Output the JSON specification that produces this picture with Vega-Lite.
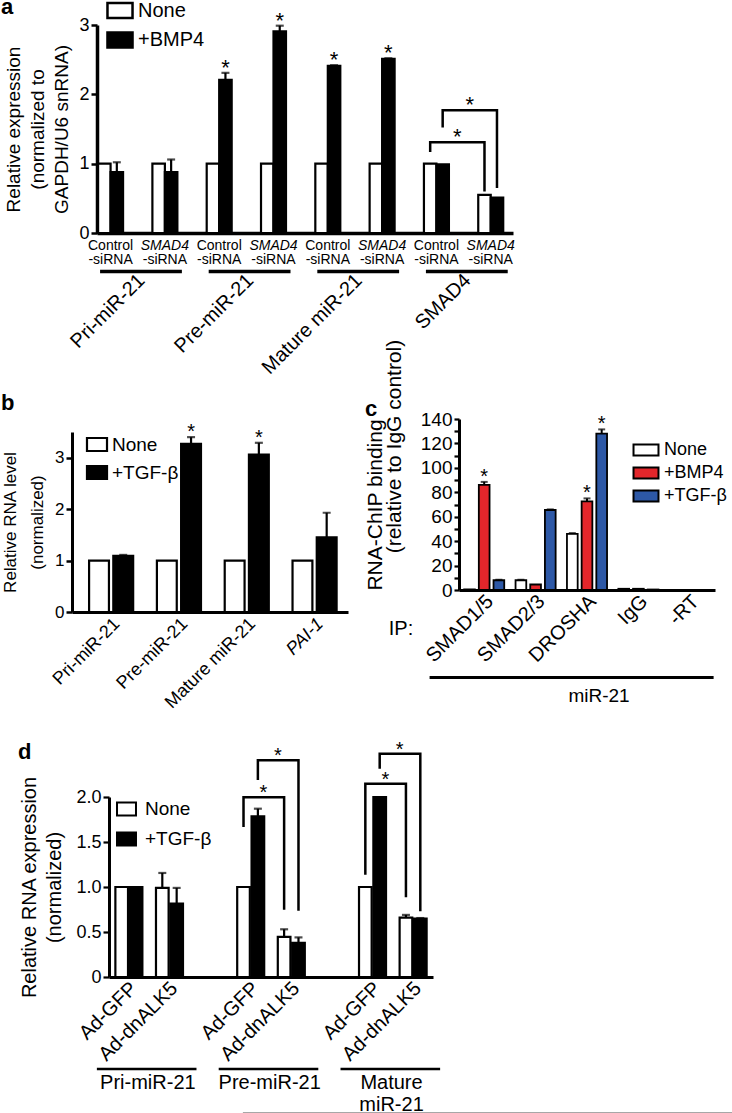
{
  "$schema": "https://vega.github.io/schema/vega-lite/v6.json",
  "padding": {"left": 0, "top": -4, "right": 0, "bottom": 0},
  "config": {
    "font": "Liberation Sans",
    "view": {"stroke": null},
    "axis": {"domainColor": "black", "tickColor": "black", "labelColor": "black", "titleColor": "black", "grid": false, "titleFontWeight": "normal", "labelFont": "Liberation Sans", "titleFont": "Liberation Sans", "labelOverlap": false, "labelBound": false, "labelLimit": 400},
    "legend": {"labelColor": "black", "labelFont": "Liberation Sans"},
    "title": {"color": "black", "font": "Liberation Sans", "fontWeight": "bold"},
    "text": {"color": "black"}
  },
  "datasets": {
    "a": [
      {"key": "Pri|Control", "treatment": "None", "value": 1.0},
      {"key": "Pri|Control", "treatment": "+BMP4", "value": 0.88, "hi": 1.02},
      {"key": "Pri|SMAD4", "treatment": "None", "value": 1.0},
      {"key": "Pri|SMAD4", "treatment": "+BMP4", "value": 0.88, "hi": 1.06},
      {"key": "Pre|Control", "treatment": "None", "value": 1.0},
      {"key": "Pre|Control", "treatment": "+BMP4", "value": 2.21, "hi": 2.31, "star": true},
      {"key": "Pre|SMAD4", "treatment": "None", "value": 1.0},
      {"key": "Pre|SMAD4", "treatment": "+BMP4", "value": 2.91, "hi": 2.99, "star": true},
      {"key": "Mat|Control", "treatment": "None", "value": 1.0},
      {"key": "Mat|Control", "treatment": "+BMP4", "value": 2.41, "hi": 2.42, "star": true},
      {"key": "Mat|SMAD4", "treatment": "None", "value": 1.0},
      {"key": "Mat|SMAD4", "treatment": "+BMP4", "value": 2.51, "hi": 2.52, "star": true},
      {"key": "SMAD4|Control", "treatment": "None", "value": 1.0},
      {"key": "SMAD4|Control", "treatment": "+BMP4", "value": 0.99},
      {"key": "SMAD4|SMAD4", "treatment": "None", "value": 0.55},
      {"key": "SMAD4|SMAD4", "treatment": "+BMP4", "value": 0.51}
    ],
    "aGroups": [
      {"key": "Pri|Control", "key2": "Pri|SMAD4", "label": "Pri-miR-21"},
      {"key": "Pre|Control", "key2": "Pre|SMAD4", "label": "Pre-miR-21"},
      {"key": "Mat|Control", "key2": "Mat|SMAD4", "label": "Mature miR-21"},
      {"key": "SMAD4|Control", "key2": "SMAD4|SMAD4", "label": "SMAD4"}
    ],
    "aBr": [
      {"id": 1, "o": 1, "key": "SMAD4|Control", "treatment": "None", "y": 1.17},
      {"id": 1, "o": 2, "key": "SMAD4|Control", "treatment": "None", "y": 1.31},
      {"id": 1, "o": 3, "key": "SMAD4|SMAD4", "treatment": "None", "y": 1.31},
      {"id": 1, "o": 4, "key": "SMAD4|SMAD4", "treatment": "None", "y": 0.6},
      {"id": 2, "o": 1, "key": "SMAD4|Control", "treatment": "+BMP4", "y": 1.52},
      {"id": 2, "o": 2, "key": "SMAD4|Control", "treatment": "+BMP4", "y": 1.77},
      {"id": 2, "o": 3, "key": "SMAD4|SMAD4", "treatment": "+BMP4", "y": 1.77},
      {"id": 2, "o": 4, "key": "SMAD4|SMAD4", "treatment": "+BMP4", "y": 0.65}
    ],
    "b": [
      {"target": "Pri-miR-21", "treatment": "None", "value": 1.0},
      {"target": "Pri-miR-21", "treatment": "+TGF-β", "value": 1.09, "hi": 1.11},
      {"target": "Pre-miR-21", "treatment": "None", "value": 1.0},
      {"target": "Pre-miR-21", "treatment": "+TGF-β", "value": 3.27, "hi": 3.4, "star": true},
      {"target": "Mature miR-21", "treatment": "None", "value": 1.0},
      {"target": "Mature miR-21", "treatment": "+TGF-β", "value": 3.06, "hi": 3.29, "star": true},
      {"target": "PAI-1", "treatment": "None", "value": 1.0},
      {"target": "PAI-1", "treatment": "+TGF-β", "value": 1.45, "hi": 1.93}
    ],
    "c": [
      {"ip": "SMAD1/5", "treatment": "None", "value": 0.5},
      {"ip": "SMAD1/5", "treatment": "+BMP4", "value": 86, "hi": 88.5, "star": true},
      {"ip": "SMAD1/5", "treatment": "+TGF-β", "value": 8, "hi": 8.4},
      {"ip": "SMAD2/3", "treatment": "None", "value": 8, "hi": 8.3},
      {"ip": "SMAD2/3", "treatment": "+BMP4", "value": 4.5},
      {"ip": "SMAD2/3", "treatment": "+TGF-β", "value": 65.5, "hi": 66},
      {"ip": "DROSHA", "treatment": "None", "value": 46, "hi": 46.6},
      {"ip": "DROSHA", "treatment": "+BMP4", "value": 72.5, "hi": 75, "star": true},
      {"ip": "DROSHA", "treatment": "+TGF-β", "value": 128, "hi": 131.5, "star": true},
      {"ip": "IgG", "treatment": "None", "value": 1},
      {"ip": "IgG", "treatment": "+BMP4", "value": 1},
      {"ip": "IgG", "treatment": "+TGF-β", "value": 0.4}
    ],
    "cNotes": [
      {"ip": "SMAD1/5", "ip2": "-RT", "mid": "DROSHA", "prefix": "IP:", "rna": "miR-21"}
    ],
    "d": [
      {"key": "Pri|Ad-GFP", "treatment": "None", "value": 1.0},
      {"key": "Pri|Ad-GFP", "treatment": "+TGF-β", "value": 1.0},
      {"key": "Pri|Ad-dnALK5", "treatment": "None", "value": 0.99, "hi": 1.156},
      {"key": "Pri|Ad-dnALK5", "treatment": "+TGF-β", "value": 0.815, "hi": 0.99},
      {"key": "Pre|Ad-GFP", "treatment": "None", "value": 1.0},
      {"key": "Pre|Ad-GFP", "treatment": "+TGF-β", "value": 1.785, "hi": 1.87},
      {"key": "Pre|Ad-dnALK5", "treatment": "None", "value": 0.445, "hi": 0.53},
      {"key": "Pre|Ad-dnALK5", "treatment": "+TGF-β", "value": 0.38, "hi": 0.44},
      {"key": "Mat|Ad-GFP", "treatment": "None", "value": 1.0},
      {"key": "Mat|Ad-GFP", "treatment": "+TGF-β", "value": 2.0},
      {"key": "Mat|Ad-dnALK5", "treatment": "None", "value": 0.66, "hi": 0.69},
      {"key": "Mat|Ad-dnALK5", "treatment": "+TGF-β", "value": 0.648, "hi": 0.655}
    ],
    "dGroups": [
      {"key": "Pri|Ad-GFP", "key2": "Pri|Ad-dnALK5", "label": "Pri-miR-21"},
      {"key": "Pre|Ad-GFP", "key2": "Pre|Ad-dnALK5", "label": "Pre-miR-21"},
      {"key": "Mat|Ad-GFP", "key2": "Mat|Ad-dnALK5", "label": "Mature\nmiR-21"}
    ],
    "dBr": [
      {"id": 1, "o": 1, "key": "Pre|Ad-GFP", "treatment": "None", "y": 1.667},
      {"id": 1, "o": 2, "key": "Pre|Ad-GFP", "treatment": "None", "y": 1.996},
      {"id": 1, "o": 3, "key": "Pre|Ad-dnALK5", "treatment": "None", "y": 1.996},
      {"id": 1, "o": 4, "key": "Pre|Ad-dnALK5", "treatment": "None", "y": 0.748},
      {"id": 2, "o": 1, "key": "Pre|Ad-GFP", "treatment": "+TGF-β", "y": 2.19},
      {"id": 2, "o": 2, "key": "Pre|Ad-GFP", "treatment": "+TGF-β", "y": 2.407},
      {"id": 2, "o": 3, "key": "Pre|Ad-dnALK5", "treatment": "+TGF-β", "y": 2.407},
      {"id": 2, "o": 4, "key": "Pre|Ad-dnALK5", "treatment": "+TGF-β", "y": 0.737},
      {"id": 3, "o": 1, "key": "Mat|Ad-GFP", "treatment": "None", "y": 1.137},
      {"id": 3, "o": 2, "key": "Mat|Ad-GFP", "treatment": "None", "y": 2.148},
      {"id": 3, "o": 3, "key": "Mat|Ad-dnALK5", "treatment": "None", "y": 2.148},
      {"id": 3, "o": 4, "key": "Mat|Ad-dnALK5", "treatment": "None", "y": 0.885},
      {"id": 4, "o": 1, "key": "Mat|Ad-GFP", "treatment": "+TGF-β", "y": 2.315},
      {"id": 4, "o": 2, "key": "Mat|Ad-GFP", "treatment": "+TGF-β", "y": 2.48},
      {"id": 4, "o": 3, "key": "Mat|Ad-dnALK5", "treatment": "+TGF-β", "y": 2.48},
      {"id": 4, "o": 4, "key": "Mat|Ad-dnALK5", "treatment": "+TGF-β", "y": 0.73}
    ],
    "dPage": [
      {"key": "Pri|Ad-GFP", "key2": "Mat|Ad-dnALK5"}
    ]
  },
  "resolve": {"scale": {"fill": "independent", "xOffset": "independent"}},
  "spacing": -39,
  "vconcat": [
    {
      "resolve": {"scale": {"fill": "independent", "xOffset": "independent"}},
      "spacing": 0,
      "hconcat": [
        {"width": 1, "height": 1, "data": {"values": [{}]}, "mark": {"type": "point", "opacity": 0, "size": 0}, "encoding": {}},
        {
          "width": 416,
          "height": 208,
          "title": {"text": "a", "anchor": "start", "frame": "group", "baseline": "alphabetic", "dx": -96, "offset": -35.5, "fontSize": 22},
          "resolve": {"axis": {"x": "independent"}},
          "layer": [
            {
              "data": {"name": "a"},
              "mark": {"type": "bar", "stroke": "black", "strokeWidth": 2.2},
              "encoding": {
                "x": {"field": "key", "type": "nominal", "scale": {"domain": ["Pri|Control", "Pri|SMAD4", "Pre|Control", "Pre|SMAD4", "Mat|Control", "Mat|SMAD4", "SMAD4|Control", "SMAD4|SMAD4"], "paddingInner": 0.54, "paddingOuter": 0.1, "align": 0.1},
                  "axis": {"orient": "bottom", "title": null, "ticks": false, "domainWidth": 3.5, "labelAngle": 0, "labelFontSize": 14, "labelPadding": 5, "labelExpr": "split(datum.value, '|')[1]", "labelFontStyle": {"condition": {"test": "split(datum.value, '|')[1] == 'SMAD4'", "value": "italic"}, "value": "normal"}}},
                "xOffset": {"field": "treatment", "type": "nominal", "scale": {"domain": ["None", "+BMP4"], "paddingInner": 0, "paddingOuter": 0}},
                "y": {"field": "value", "type": "quantitative", "scale": {"domain": [0, 3], "nice": false},
                  "axis": {"orient": "left", "values": [0, 0.5, 1, 1.5, 2, 2.5, 3], "format": "d", "labelOverlap": false, "labelExpr": "datum.value % 1 == 0 ? datum.label : ''", "tickSize": 6, "tickWidth": 2.5, "domainWidth": 3.5, "labelFontSize": 18, "labelPadding": 2, "title": ["Relative expression", "(normalized to", "GAPDH/U6 snRNA)"], "titleFontSize": 19, "titleLineHeight": 24, "titlePadding": 7}},
                "fill": {"field": "treatment", "type": "nominal", "scale": {"domain": ["None", "+BMP4"], "range": ["white", "black"]},
                  "legend": {"orient": "none", "legendX": 13, "legendY": -24.5, "title": null, "symbolType": "M-1.67,-1H1.67V1H-1.67Z", "symbolSize": 225, "symbolStrokeColor": "black", "symbolStrokeWidth": 2.5, "labelFontSize": 20, "labelOffset": 8, "rowPadding": 3.5, "padding": 0}}
              }
            },
            {
              "data": {"name": "a"},
              "transform": [{"filter": "isValid(datum.hi)"}],
              "mark": {"type": "rule", "strokeWidth": 2.2, "color": "black"},
              "encoding": {
                "x": {"field": "key", "type": "nominal", "scale": {"domain": ["Pri|Control", "Pri|SMAD4", "Pre|Control", "Pre|SMAD4", "Mat|Control", "Mat|SMAD4", "SMAD4|Control", "SMAD4|SMAD4"], "paddingInner": 0.54, "paddingOuter": 0.1, "align": 0.1},
                  "axis": {"orient": "bottom", "title": null, "ticks": false, "domain": false, "labelAngle": 0, "labelFontSize": 14, "labelPadding": 5, "offset": 14, "labelExpr": "'-siRNA'"}},
                "xOffset": {"field": "treatment", "type": "nominal", "scale": {"domain": ["None", "+BMP4"], "paddingInner": 0, "paddingOuter": 0}},
                "y": {"field": "value", "type": "quantitative", "scale": {"domain": [0, 3], "nice": false}},
                "y2": {"field": "hi"}
              }
            },
            {
              "data": {"name": "a"},
              "transform": [{"filter": "isValid(datum.hi)"}],
              "mark": {"type": "tick", "thickness": 2.2, "size": 8, "color": "black"},
              "encoding": {
                "x": {"field": "key", "type": "nominal", "scale": {"domain": ["Pri|Control", "Pri|SMAD4", "Pre|Control", "Pre|SMAD4", "Mat|Control", "Mat|SMAD4", "SMAD4|Control", "SMAD4|SMAD4"], "paddingInner": 0.54, "paddingOuter": 0.1, "align": 0.1}, "axis": null},
                "xOffset": {"field": "treatment", "type": "nominal", "scale": {"domain": ["None", "+BMP4"], "paddingInner": 0, "paddingOuter": 0}},
                "y": {"field": "hi", "type": "quantitative", "scale": {"domain": [0, 3], "nice": false}}
              }
            },
            {
              "data": {"name": "a"},
              "transform": [{"filter": "datum.star === true"}],
              "mark": {"type": "text", "text": "*", "fontSize": 22, "baseline": "alphabetic", "align": "center", "dy": 2},
              "encoding": {
                "x": {"field": "key", "type": "nominal", "scale": {"domain": ["Pri|Control", "Pri|SMAD4", "Pre|Control", "Pre|SMAD4", "Mat|Control", "Mat|SMAD4", "SMAD4|Control", "SMAD4|SMAD4"], "paddingInner": 0.54, "paddingOuter": 0.1, "align": 0.1}, "axis": null},
                "xOffset": {"field": "treatment", "type": "nominal", "scale": {"domain": ["None", "+BMP4"], "paddingInner": 0, "paddingOuter": 0}},
                "y": {"field": "hi", "type": "quantitative", "scale": {"domain": [0, 3], "nice": false}}
              }
            },
            {
              "data": {"name": "aGroups"},
              "mark": {"type": "rule", "strokeWidth": 3.5, "color": "black", "xOffset": -10.5, "x2Offset": 17},
              "encoding": {
                "x": {"field": "key", "type": "nominal", "scale": {"domain": ["Pri|Control", "Pri|SMAD4", "Pre|Control", "Pre|SMAD4", "Mat|Control", "Mat|SMAD4", "SMAD4|Control", "SMAD4|SMAD4"], "paddingInner": 0.54, "paddingOuter": 0.1, "align": 0.1}, "axis": null},
                "x2": {"field": "key2"},
                "y": {"datum": -0.555, "type": "quantitative", "scale": {"domain": [0, 3], "nice": false}}
              }
            },
            {
              "data": {"name": "aGroups"},
              "mark": {"type": "text", "angle": 315, "align": "right", "baseline": "middle", "fontSize": 20, "dx": 22, "dy": 22},
              "encoding": {
                "x": {"field": "key", "type": "nominal", "scale": {"domain": ["Pri|Control", "Pri|SMAD4", "Pre|Control", "Pre|SMAD4", "Mat|Control", "Mat|SMAD4", "SMAD4|Control", "SMAD4|SMAD4"], "paddingInner": 0.54, "paddingOuter": 0.1, "align": 0.1}, "axis": null},
                "y": {"datum": -0.64, "type": "quantitative", "scale": {"domain": [0, 3], "nice": false}},
                "text": {"field": "label"}
              }
            },
            {
              "data": {"name": "aBr"},
              "mark": {"type": "line", "color": "black", "strokeWidth": 2.5},
              "encoding": {
                "x": {"field": "key", "type": "nominal", "scale": {"domain": ["Pri|Control", "Pri|SMAD4", "Pre|Control", "Pre|SMAD4", "Mat|Control", "Mat|SMAD4", "SMAD4|Control", "SMAD4|SMAD4"], "paddingInner": 0.54, "paddingOuter": 0.1, "align": 0.1}, "axis": null},
                "xOffset": {"field": "treatment", "type": "nominal", "scale": {"domain": ["None", "+BMP4"], "paddingInner": 0, "paddingOuter": 0}},
                "y": {"field": "y", "type": "quantitative", "scale": {"domain": [0, 3], "nice": false}},
                "detail": {"field": "id", "type": "nominal"},
                "order": {"field": "o", "type": "quantitative"}
              }
            },
            {
              "data": {"name": "aBr"},
              "transform": [{"filter": "datum.o == 2"}],
              "mark": {"type": "text", "text": "*", "fontSize": 22, "baseline": "alphabetic", "align": "center", "dx": 27, "dy": 2},
              "encoding": {
                "x": {"field": "key", "type": "nominal", "scale": {"domain": ["Pri|Control", "Pri|SMAD4", "Pre|Control", "Pre|SMAD4", "Mat|Control", "Mat|SMAD4", "SMAD4|Control", "SMAD4|SMAD4"], "paddingInner": 0.54, "paddingOuter": 0.1, "align": 0.1}, "axis": null},
                "xOffset": {"field": "treatment", "type": "nominal", "scale": {"domain": ["None", "+BMP4"], "paddingInner": 0, "paddingOuter": 0}},
                "y": {"field": "y", "type": "quantitative", "scale": {"domain": [0, 3], "nice": false}}
              }
            }
          ]
        }
      ]
    },
    {
      "resolve": {"scale": {"fill": "independent", "xOffset": "independent"}},
      "spacing": 27,
      "vconcat": [
        {
          "resolve": {"scale": {"fill": "independent", "xOffset": "independent"}},
          "spacing": 0,
          "hconcat": [
            {"width": 1, "height": 1, "data": {"values": [{}]}, "mark": {"type": "point", "opacity": 0, "size": 0}, "encoding": {}},
            {
              "resolve": {"scale": {"fill": "independent", "xOffset": "independent"}},
              "spacing": 16,
              "hconcat": [
                {
                  "resolve": {"scale": {"fill": "independent", "xOffset": "independent"}},
                  "spacing": -28,
                  "vconcat": [
                    {"width": 1, "height": 1, "data": {"values": [{}]}, "mark": {"type": "point", "opacity": 0, "size": 0}, "encoding": {}},
                    {
                      "width": 276,
                      "height": 180,
                      "title": {"text": "b", "anchor": "start", "frame": "group", "baseline": "alphabetic", "dx": -71, "offset": -10, "fontSize": 22},
                      "layer": [
                        {
                          "data": {"name": "b"},
                          "mark": {"type": "bar", "stroke": "black", "strokeWidth": 2.2},
                          "encoding": {
                            "x": {"field": "target", "type": "nominal", "scale": {"domain": ["Pri-miR-21", "Pre-miR-21", "Mature miR-21", "PAI-1"], "paddingInner": 0.35, "paddingOuter": 0.21, "align": 0.6},
                              "axis": {"orient": "bottom", "title": null, "ticks": false, "domainWidth": 3, "labelAngle": -45, "labelAlign": "right", "labelBaseline": "middle", "labelFontSize": 18, "labelPadding": 9, "labelOffset": 6, "labelFontStyle": {"condition": {"test": "datum.value == 'PAI-1'", "value": "italic"}, "value": "normal"}}},
                            "xOffset": {"field": "treatment", "type": "nominal", "scale": {"domain": ["None", "+TGF-β"], "paddingInner": 0.18, "paddingOuter": 0}},
                            "y": {"field": "value", "type": "quantitative", "scale": {"domain": [0, 3.5], "nice": false},
                              "axis": {"orient": "left", "values": [0, 0.5, 1, 1.5, 2, 2.5, 3, 3.5], "format": "d", "labelOverlap": false, "labelExpr": "datum.value % 1 == 0 ? datum.label : ''", "tickSize": 6, "tickWidth": 2.5, "domainWidth": 3, "labelFontSize": 17, "labelPadding": 2, "title": ["Relative RNA level", "(normalized)"], "titleFontSize": 17, "titleLineHeight": 27, "titlePadding": 8}},
                            "fill": {"field": "treatment", "type": "nominal", "scale": {"domain": ["None", "+TGF-β"], "range": ["white", "black"]},
                              "legend": {"orient": "none", "legendX": 15.5, "legendY": 3, "title": null, "symbolType": "M-1.54,-1H1.54V1H-1.54Z", "symbolSize": 169, "symbolStrokeColor": "black", "symbolStrokeWidth": 2.2, "labelFontSize": 19, "labelOffset": 5.5, "rowPadding": 5, "padding": 0}}
                          }
                        },
                        {
                          "data": {"name": "b"},
                          "transform": [{"filter": "isValid(datum.hi)"}],
                          "mark": {"type": "rule", "strokeWidth": 2.2, "color": "black"},
                          "encoding": {
                            "x": {"field": "target", "type": "nominal", "scale": {"domain": ["Pri-miR-21", "Pre-miR-21", "Mature miR-21", "PAI-1"], "paddingInner": 0.35, "paddingOuter": 0.21, "align": 0.6}},
                            "xOffset": {"field": "treatment", "type": "nominal", "scale": {"domain": ["None", "+TGF-β"], "paddingInner": 0.18, "paddingOuter": 0}},
                            "y": {"field": "value", "type": "quantitative", "scale": {"domain": [0, 3.5], "nice": false}},
                            "y2": {"field": "hi"}
                          }
                        },
                        {
                          "data": {"name": "b"},
                          "transform": [{"filter": "isValid(datum.hi)"}],
                          "mark": {"type": "tick", "thickness": 2.2, "size": 8, "color": "black"},
                          "encoding": {
                            "x": {"field": "target", "type": "nominal", "scale": {"domain": ["Pri-miR-21", "Pre-miR-21", "Mature miR-21", "PAI-1"], "paddingInner": 0.35, "paddingOuter": 0.21, "align": 0.6}},
                            "xOffset": {"field": "treatment", "type": "nominal", "scale": {"domain": ["None", "+TGF-β"], "paddingInner": 0.18, "paddingOuter": 0}},
                            "y": {"field": "hi", "type": "quantitative", "scale": {"domain": [0, 3.5], "nice": false}}
                          }
                        },
                        {
                          "data": {"name": "b"},
                          "transform": [{"filter": "datum.star === true"}],
                          "mark": {"type": "text", "text": "*", "fontSize": 20, "baseline": "alphabetic", "align": "center", "dy": 1},
                          "encoding": {
                            "x": {"field": "target", "type": "nominal", "scale": {"domain": ["Pri-miR-21", "Pre-miR-21", "Mature miR-21", "PAI-1"], "paddingInner": 0.35, "paddingOuter": 0.21, "align": 0.6}},
                            "xOffset": {"field": "treatment", "type": "nominal", "scale": {"domain": ["None", "+TGF-β"], "paddingInner": 0.18, "paddingOuter": 0}},
                            "y": {"field": "hi", "type": "quantitative", "scale": {"domain": [0, 3.5], "nice": false}}
                          }
                        }
                      ]
                    }
                  ]
                },
                {
                  "width": 256,
                  "height": 171,
                  "title": {"text": "c", "anchor": "start", "frame": "group", "baseline": "alphabetic", "dx": -94, "offset": -99, "fontSize": 22},
                  "resolve": {"axis": {"y": "independent"}},
                  "layer": [
                    {
                      "data": {"name": "c"},
                      "mark": {"type": "bar", "stroke": "black", "strokeWidth": 1.8},
                      "encoding": {
                        "x": {"field": "ip", "type": "nominal", "scale": {"domain": ["SMAD1/5", "SMAD2/3", "DROSHA", "IgG", "-RT"], "paddingInner": 0.22, "paddingOuter": 0.1},
                          "axis": {"orient": "bottom", "title": null, "ticks": false, "domainWidth": 3, "labelAngle": -45, "labelAlign": "right", "labelBaseline": "middle", "labelFontSize": 20, "labelPadding": 8, "labelOffset": 6}},
                        "xOffset": {"field": "treatment", "type": "nominal", "scale": {"domain": ["None", "+BMP4", "+TGF-β"], "paddingInner": 0.27, "paddingOuter": 0}},
                        "y": {"field": "value", "type": "quantitative", "scale": {"domain": [0, 140], "nice": false},
                          "axis": {"orient": "left", "values": [0, 20, 40, 60, 80, 100, 120, 140], "format": "d", "labelOverlap": false, "tickSize": 5, "tickWidth": 2.2, "domainWidth": 3, "labelFontSize": 19, "labelPadding": 2, "title": "RNA-ChIP binding", "titleFontSize": 21, "titlePadding": 35}},
                        "fill": {"field": "treatment", "type": "nominal", "scale": {"domain": ["None", "+BMP4", "+TGF-β"], "range": ["white", "#e3262b", "#2d58a6"]},
                          "legend": {"orient": "none", "legendX": 178, "legendY": 22, "title": null, "symbolType": "M-2.27,-1H2.27V1H-2.27Z", "symbolSize": 121, "symbolStrokeColor": "black", "symbolStrokeWidth": 2, "labelFontSize": 18, "labelOffset": 9, "rowPadding": 3, "padding": 0}}
                      }
                    },
                    {
                      "data": {"name": "c"},
                      "transform": [{"filter": "isValid(datum.hi)"}],
                      "mark": {"type": "rule", "strokeWidth": 2, "color": "black"},
                      "encoding": {
                        "x": {"field": "ip", "type": "nominal", "scale": {"domain": ["SMAD1/5", "SMAD2/3", "DROSHA", "IgG", "-RT"], "paddingInner": 0.22, "paddingOuter": 0.1}},
                        "xOffset": {"field": "treatment", "type": "nominal", "scale": {"domain": ["None", "+BMP4", "+TGF-β"], "paddingInner": 0.27, "paddingOuter": 0}},
                        "y": {"field": "value", "type": "quantitative", "scale": {"domain": [0, 140], "nice": false},
                          "axis": {"orient": "left", "values": [10, 30, 50, 70, 90, 110, 130], "labels": false, "domain": false, "tickSize": 5, "tickWidth": 2.2, "title": "(relative to IgG control)", "titleFontSize": 21, "titlePadding": 48, "titleY": 27}},
                        "y2": {"field": "hi"}
                      }
                    },
                    {
                      "data": {"name": "c"},
                      "transform": [{"filter": "isValid(datum.hi)"}],
                      "mark": {"type": "tick", "thickness": 2, "size": 7, "color": "black"},
                      "encoding": {
                        "x": {"field": "ip", "type": "nominal", "scale": {"domain": ["SMAD1/5", "SMAD2/3", "DROSHA", "IgG", "-RT"], "paddingInner": 0.22, "paddingOuter": 0.1}},
                        "xOffset": {"field": "treatment", "type": "nominal", "scale": {"domain": ["None", "+BMP4", "+TGF-β"], "paddingInner": 0.27, "paddingOuter": 0}},
                        "y": {"field": "hi", "type": "quantitative", "scale": {"domain": [0, 140], "nice": false}, "axis": null}
                      }
                    },
                    {
                      "data": {"name": "c"},
                      "transform": [{"filter": "datum.star === true"}],
                      "mark": {"type": "text", "text": "*", "fontSize": 20, "baseline": "alphabetic", "align": "center", "dy": 1},
                      "encoding": {
                        "x": {"field": "ip", "type": "nominal", "scale": {"domain": ["SMAD1/5", "SMAD2/3", "DROSHA", "IgG", "-RT"], "paddingInner": 0.22, "paddingOuter": 0.1}},
                        "xOffset": {"field": "treatment", "type": "nominal", "scale": {"domain": ["None", "+BMP4", "+TGF-β"], "paddingInner": 0.27, "paddingOuter": 0}},
                        "y": {"field": "hi", "type": "quantitative", "scale": {"domain": [0, 140], "nice": false}, "axis": null}
                      }
                    },
                    {
                      "data": {"name": "cNotes"},
                      "mark": {"type": "rule", "strokeWidth": 3, "color": "black", "xOffset": -54.6, "x2Offset": 23.8},
                      "encoding": {
                        "x": {"field": "ip", "type": "nominal", "scale": {"domain": ["SMAD1/5", "SMAD2/3", "DROSHA", "IgG", "-RT"], "paddingInner": 0.22, "paddingOuter": 0.1}},
                        "x2": {"field": "ip2"},
                        "y": {"datum": -71.6, "type": "quantitative", "scale": {"domain": [0, 140], "nice": false}, "axis": null}
                      }
                    },
                    {
                      "data": {"name": "cNotes"},
                      "mark": {"type": "text", "align": "right", "baseline": "middle", "fontSize": 20, "dx": -71},
                      "encoding": {
                        "x": {"field": "ip", "type": "nominal", "scale": {"domain": ["SMAD1/5", "SMAD2/3", "DROSHA", "IgG", "-RT"], "paddingInner": 0.22, "paddingOuter": 0.1}},
                        "y": {"datum": -32, "type": "quantitative", "scale": {"domain": [0, 140], "nice": false}, "axis": null},
                        "text": {"field": "prefix"}
                      }
                    },
                    {
                      "data": {"name": "cNotes"},
                      "mark": {"type": "text", "align": "center", "baseline": "middle", "fontSize": 19, "dx": 12},
                      "encoding": {
                        "x": {"field": "mid", "type": "nominal", "scale": {"domain": ["SMAD1/5", "SMAD2/3", "DROSHA", "IgG", "-RT"], "paddingInner": 0.22, "paddingOuter": 0.1}},
                        "y": {"datum": -87, "type": "quantitative", "scale": {"domain": [0, 140], "nice": false}, "axis": null},
                        "text": {"field": "rna"}
                      }
                    }
                  ]
                }
              ]
            }
          ]
        },
        {
          "resolve": {"scale": {"fill": "independent", "xOffset": "independent"}},
          "spacing": 17,
          "hconcat": [
            {"width": 1, "height": 1, "data": {"values": [{}]}, "mark": {"type": "point", "opacity": 0, "size": 0}, "encoding": {}},
            {
              "width": 324,
              "height": 180,
              "title": {"text": "d", "anchor": "start", "frame": "group", "baseline": "alphabetic", "dx": -91, "offset": -41, "fontSize": 22},
              "layer": [
                {
                  "data": {"name": "d"},
                  "mark": {"type": "bar", "stroke": "black", "strokeWidth": 2.2},
                  "encoding": {
                    "x": {"field": "key", "type": "nominal", "scale": {"domain": ["Pri|Ad-GFP", "Pri|Ad-dnALK5", "gap1", "Pre|Ad-GFP", "Pre|Ad-dnALK5", "gap2", "Mat|Ad-GFP", "Mat|Ad-dnALK5"], "paddingInner": 0.335, "paddingOuter": 0.157},
                      "axis": {"orient": "bottom", "title": null, "ticks": false, "domainWidth": 3, "labelAngle": -45, "labelAlign": "right", "labelBaseline": "middle", "labelFontSize": 20, "labelPadding": 8, "labelOffset": 5, "labelExpr": "indexof(datum.value, '|') >= 0 ? split(datum.value, '|')[1] : ''"}},
                    "xOffset": {"field": "treatment", "type": "nominal", "scale": {"domain": ["None", "+TGF-β"], "paddingInner": 0.12, "paddingOuter": 0}},
                    "y": {"field": "value", "type": "quantitative", "scale": {"domain": [0, 2], "nice": false},
                      "axis": {"orient": "left", "values": [0, 0.25, 0.5, 0.75, 1, 1.25, 1.5, 1.75, 2], "labelOverlap": false, "labelExpr": "datum.value == 0 ? '0' : (datum.value % 0.5 == 0 ? format(datum.value, '.1f') : '')", "tickSize": 6, "tickWidth": 2.2, "domainWidth": 3, "labelFontSize": 18, "labelPadding": 2, "title": ["Relative RNA expression", "(normalized)"], "titleFontSize": 20, "titleLineHeight": 25, "titlePadding": 11}},
                    "fill": {"field": "treatment", "type": "nominal", "scale": {"domain": ["None", "+TGF-β"], "range": ["white", "black"]},
                      "legend": {"orient": "none", "legendX": 8, "legendY": 2.5, "title": null, "symbolType": "M-1.46,-1H1.46V1H-1.46Z", "symbolSize": 169, "symbolStrokeColor": "black", "symbolStrokeWidth": 2, "labelFontSize": 19, "labelOffset": 9, "rowPadding": 9, "padding": 0}}
                  }
                },
                {
                  "data": {"name": "d"},
                  "transform": [{"filter": "isValid(datum.hi)"}],
                  "mark": {"type": "rule", "strokeWidth": 2.2, "color": "black"},
                  "encoding": {
                    "x": {"field": "key", "type": "nominal", "scale": {"domain": ["Pri|Ad-GFP", "Pri|Ad-dnALK5", "gap1", "Pre|Ad-GFP", "Pre|Ad-dnALK5", "gap2", "Mat|Ad-GFP", "Mat|Ad-dnALK5"], "paddingInner": 0.335, "paddingOuter": 0.157}},
                    "xOffset": {"field": "treatment", "type": "nominal", "scale": {"domain": ["None", "+TGF-β"], "paddingInner": 0.12, "paddingOuter": 0}},
                    "y": {"field": "value", "type": "quantitative", "scale": {"domain": [0, 2], "nice": false}},
                    "y2": {"field": "hi"}
                  }
                },
                {
                  "data": {"name": "d"},
                  "transform": [{"filter": "isValid(datum.hi)"}],
                  "mark": {"type": "tick", "thickness": 2.2, "size": 8, "color": "black"},
                  "encoding": {
                    "x": {"field": "key", "type": "nominal", "scale": {"domain": ["Pri|Ad-GFP", "Pri|Ad-dnALK5", "gap1", "Pre|Ad-GFP", "Pre|Ad-dnALK5", "gap2", "Mat|Ad-GFP", "Mat|Ad-dnALK5"], "paddingInner": 0.335, "paddingOuter": 0.157}},
                    "xOffset": {"field": "treatment", "type": "nominal", "scale": {"domain": ["None", "+TGF-β"], "paddingInner": 0.12, "paddingOuter": 0}},
                    "y": {"field": "hi", "type": "quantitative", "scale": {"domain": [0, 2], "nice": false}}
                  }
                },
                {
                  "data": {"name": "dBr"},
                  "mark": {"type": "line", "color": "black", "strokeWidth": 2.5},
                  "encoding": {
                    "x": {"field": "key", "type": "nominal", "scale": {"domain": ["Pri|Ad-GFP", "Pri|Ad-dnALK5", "gap1", "Pre|Ad-GFP", "Pre|Ad-dnALK5", "gap2", "Mat|Ad-GFP", "Mat|Ad-dnALK5"], "paddingInner": 0.335, "paddingOuter": 0.157}},
                    "xOffset": {"field": "treatment", "type": "nominal", "scale": {"domain": ["None", "+TGF-β"], "paddingInner": 0.12, "paddingOuter": 0}},
                    "y": {"field": "y", "type": "quantitative", "scale": {"domain": [0, 2], "nice": false}},
                    "detail": {"field": "id", "type": "nominal"},
                    "order": {"field": "o", "type": "quantitative"}
                  }
                },
                {
                  "data": {"name": "dBr"},
                  "transform": [{"filter": "datum.o == 2"}],
                  "mark": {"type": "text", "text": "*", "fontSize": 20, "baseline": "alphabetic", "align": "center", "dx": 20, "dy": 2},
                  "encoding": {
                    "x": {"field": "key", "type": "nominal", "scale": {"domain": ["Pri|Ad-GFP", "Pri|Ad-dnALK5", "gap1", "Pre|Ad-GFP", "Pre|Ad-dnALK5", "gap2", "Mat|Ad-GFP", "Mat|Ad-dnALK5"], "paddingInner": 0.335, "paddingOuter": 0.157}},
                    "xOffset": {"field": "treatment", "type": "nominal", "scale": {"domain": ["None", "+TGF-β"], "paddingInner": 0.12, "paddingOuter": 0}},
                    "y": {"field": "y", "type": "quantitative", "scale": {"domain": [0, 2], "nice": false}}
                  }
                },
                {
                  "data": {"name": "dGroups"},
                  "mark": {"type": "rule", "strokeWidth": 2.5, "color": "black", "xOffset": -32, "x2Offset": 27},
                  "encoding": {
                    "x": {"field": "key", "type": "nominal", "scale": {"domain": ["Pri|Ad-GFP", "Pri|Ad-dnALK5", "gap1", "Pre|Ad-GFP", "Pre|Ad-dnALK5", "gap2", "Mat|Ad-GFP", "Mat|Ad-dnALK5"], "paddingInner": 0.335, "paddingOuter": 0.157}},
                    "x2": {"field": "key2"},
                    "y": {"datum": -1.022, "type": "quantitative", "scale": {"domain": [0, 2], "nice": false}}
                  }
                },
                {
                  "data": {"name": "dGroups"},
                  "mark": {"type": "text", "align": "center", "baseline": "top", "fontSize": 20, "dx": 19, "lineBreak": "\n", "lineHeight": 22},
                  "encoding": {
                    "x": {"field": "key", "type": "nominal", "scale": {"domain": ["Pri|Ad-GFP", "Pri|Ad-dnALK5", "gap1", "Pre|Ad-GFP", "Pre|Ad-dnALK5", "gap2", "Mat|Ad-GFP", "Mat|Ad-dnALK5"], "paddingInner": 0.335, "paddingOuter": 0.157}},
                    "y": {"datum": -1.07, "type": "quantitative", "scale": {"domain": [0, 2], "nice": false}},
                    "text": {"field": "label"}
                  }
                },
                {
                  "data": {"name": "dPage"},
                  "mark": {"type": "rule", "strokeWidth": 1.2, "color": "#8a8a8a", "xOffset": 114, "x2Offset": 319},
                  "encoding": {
                    "x": {"field": "key", "type": "nominal", "scale": {"domain": ["Pri|Ad-GFP", "Pri|Ad-dnALK5", "gap1", "Pre|Ad-GFP", "Pre|Ad-dnALK5", "gap2", "Mat|Ad-GFP", "Mat|Ad-dnALK5"], "paddingInner": 0.335, "paddingOuter": 0.157}},
                    "x2": {"field": "key2"},
                    "y": {"datum": -1.51, "type": "quantitative", "scale": {"domain": [0, 2], "nice": false}}
                  }
                }
              ]
            }
          ]
        }
      ]
    }
  ]
}
